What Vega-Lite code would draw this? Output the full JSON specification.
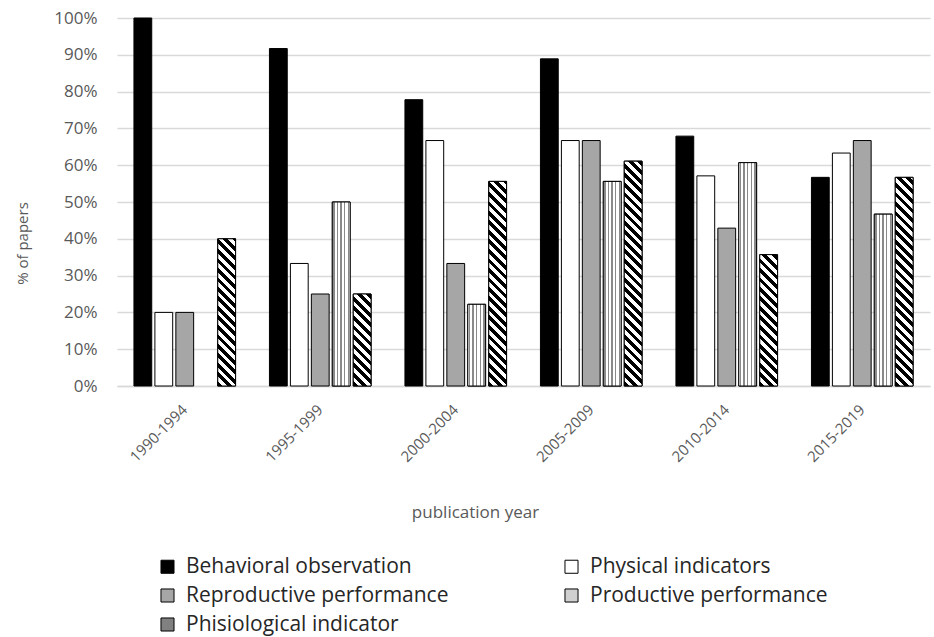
{
  "$schema": "https://vega.github.io/schema/vega-lite/v6.json",
  "width": 813,
  "height": 368,
  "autosize": {"type": "none"},
  "padding": {"left": 117, "top": 18, "right": 4, "bottom": 251},
  "background": "white",
  "config": {"view": {"stroke": null}, "font": "Open Sans"},
  "params": [
    {"name": "stripeStops", "value": [
      {"offset": 0, "color": "#000"}, {"offset": 0.0179, "color": "#000"},
      {"offset": 0.0179, "color": "#fff"}, {"offset": 0.0357, "color": "#fff"},
      {"offset": 0.0357, "color": "#000"}, {"offset": 0.0536, "color": "#000"},
      {"offset": 0.0536, "color": "#fff"}, {"offset": 0.0714, "color": "#fff"},
      {"offset": 0.0714, "color": "#000"}, {"offset": 0.0893, "color": "#000"},
      {"offset": 0.0893, "color": "#fff"}, {"offset": 0.1071, "color": "#fff"},
      {"offset": 0.1071, "color": "#000"}, {"offset": 0.125, "color": "#000"},
      {"offset": 0.125, "color": "#fff"}, {"offset": 0.1429, "color": "#fff"},
      {"offset": 0.1429, "color": "#000"}, {"offset": 0.1607, "color": "#000"},
      {"offset": 0.1607, "color": "#fff"}, {"offset": 0.1786, "color": "#fff"},
      {"offset": 0.1786, "color": "#000"}, {"offset": 0.1964, "color": "#000"},
      {"offset": 0.1964, "color": "#fff"}, {"offset": 0.2143, "color": "#fff"},
      {"offset": 0.2143, "color": "#000"}, {"offset": 0.2321, "color": "#000"},
      {"offset": 0.2321, "color": "#fff"}, {"offset": 0.25, "color": "#fff"},
      {"offset": 0.25, "color": "#000"}, {"offset": 0.2679, "color": "#000"},
      {"offset": 0.2679, "color": "#fff"}, {"offset": 0.2857, "color": "#fff"},
      {"offset": 0.2857, "color": "#000"}, {"offset": 0.3036, "color": "#000"},
      {"offset": 0.3036, "color": "#fff"}, {"offset": 0.3214, "color": "#fff"},
      {"offset": 0.3214, "color": "#000"}, {"offset": 0.3393, "color": "#000"},
      {"offset": 0.3393, "color": "#fff"}, {"offset": 0.3571, "color": "#fff"},
      {"offset": 0.3571, "color": "#000"}, {"offset": 0.375, "color": "#000"},
      {"offset": 0.375, "color": "#fff"}, {"offset": 0.3929, "color": "#fff"},
      {"offset": 0.3929, "color": "#000"}, {"offset": 0.4107, "color": "#000"},
      {"offset": 0.4107, "color": "#fff"}, {"offset": 0.4286, "color": "#fff"},
      {"offset": 0.4286, "color": "#000"}, {"offset": 0.4464, "color": "#000"},
      {"offset": 0.4464, "color": "#fff"}, {"offset": 0.4643, "color": "#fff"},
      {"offset": 0.4643, "color": "#000"}, {"offset": 0.4821, "color": "#000"},
      {"offset": 0.4821, "color": "#fff"}, {"offset": 0.5, "color": "#fff"},
      {"offset": 0.5, "color": "#000"}, {"offset": 0.5179, "color": "#000"},
      {"offset": 0.5179, "color": "#fff"}, {"offset": 0.5357, "color": "#fff"},
      {"offset": 0.5357, "color": "#000"}, {"offset": 0.5536, "color": "#000"},
      {"offset": 0.5536, "color": "#fff"}, {"offset": 0.5714, "color": "#fff"},
      {"offset": 0.5714, "color": "#000"}, {"offset": 0.5893, "color": "#000"},
      {"offset": 0.5893, "color": "#fff"}, {"offset": 0.6071, "color": "#fff"},
      {"offset": 0.6071, "color": "#000"}, {"offset": 0.625, "color": "#000"},
      {"offset": 0.625, "color": "#fff"}, {"offset": 0.6429, "color": "#fff"},
      {"offset": 0.6429, "color": "#000"}, {"offset": 0.6607, "color": "#000"},
      {"offset": 0.6607, "color": "#fff"}, {"offset": 0.6786, "color": "#fff"},
      {"offset": 0.6786, "color": "#000"}, {"offset": 0.6964, "color": "#000"},
      {"offset": 0.6964, "color": "#fff"}, {"offset": 0.7143, "color": "#fff"},
      {"offset": 0.7143, "color": "#000"}, {"offset": 0.7321, "color": "#000"},
      {"offset": 0.7321, "color": "#fff"}, {"offset": 0.75, "color": "#fff"},
      {"offset": 0.75, "color": "#000"}, {"offset": 0.7679, "color": "#000"},
      {"offset": 0.7679, "color": "#fff"}, {"offset": 0.7857, "color": "#fff"},
      {"offset": 0.7857, "color": "#000"}, {"offset": 0.8036, "color": "#000"},
      {"offset": 0.8036, "color": "#fff"}, {"offset": 0.8214, "color": "#fff"},
      {"offset": 0.8214, "color": "#000"}, {"offset": 0.8393, "color": "#000"},
      {"offset": 0.8393, "color": "#fff"}, {"offset": 0.8571, "color": "#fff"},
      {"offset": 0.8571, "color": "#000"}, {"offset": 0.875, "color": "#000"},
      {"offset": 0.875, "color": "#fff"}, {"offset": 0.8929, "color": "#fff"},
      {"offset": 0.8929, "color": "#000"}, {"offset": 0.9107, "color": "#000"},
      {"offset": 0.9107, "color": "#fff"}, {"offset": 0.9286, "color": "#fff"},
      {"offset": 0.9286, "color": "#000"}, {"offset": 0.9464, "color": "#000"},
      {"offset": 0.9464, "color": "#fff"}, {"offset": 0.9643, "color": "#fff"},
      {"offset": 0.9643, "color": "#000"}, {"offset": 0.9821, "color": "#000"},
      {"offset": 0.9821, "color": "#fff"}, {"offset": 1, "color": "#fff"}
    ]},
    {"name": "dotFill", "value": {"gradient": "linear", "x1": 0, "y1": 0, "x2": 1, "y2": 0, "stops": [
      {"offset": 0, "color": "#fff"}, {"offset": 0.06, "color": "#fff"},
      {"offset": 0.06, "color": "#8a8a8a"}, {"offset": 0.14, "color": "#8a8a8a"},
      {"offset": 0.14, "color": "#fff"}, {"offset": 0.26, "color": "#fff"},
      {"offset": 0.26, "color": "#8a8a8a"}, {"offset": 0.34, "color": "#8a8a8a"},
      {"offset": 0.34, "color": "#fff"}, {"offset": 0.46, "color": "#fff"},
      {"offset": 0.46, "color": "#8a8a8a"}, {"offset": 0.54, "color": "#8a8a8a"},
      {"offset": 0.54, "color": "#fff"}, {"offset": 0.66, "color": "#fff"},
      {"offset": 0.66, "color": "#8a8a8a"}, {"offset": 0.74, "color": "#8a8a8a"},
      {"offset": 0.74, "color": "#fff"}, {"offset": 0.86, "color": "#fff"},
      {"offset": 0.86, "color": "#8a8a8a"}, {"offset": 0.94, "color": "#8a8a8a"},
      {"offset": 0.94, "color": "#fff"}, {"offset": 1, "color": "#fff"}
    ]}}
  ],
  "data": {"values": [
    {"period": "1990-1994", "series": "Behavioral observation", "pct": 1.0},
    {"period": "1990-1994", "series": "Physical indicators", "pct": 0.2},
    {"period": "1990-1994", "series": "Reproductive performance", "pct": 0.2},
    {"period": "1990-1994", "series": "Phisiological indicator", "pct": 0.4},
    {"period": "1995-1999", "series": "Behavioral observation", "pct": 0.917},
    {"period": "1995-1999", "series": "Physical indicators", "pct": 0.333},
    {"period": "1995-1999", "series": "Reproductive performance", "pct": 0.25},
    {"period": "1995-1999", "series": "Productive performance", "pct": 0.5},
    {"period": "1995-1999", "series": "Phisiological indicator", "pct": 0.25},
    {"period": "2000-2004", "series": "Behavioral observation", "pct": 0.778},
    {"period": "2000-2004", "series": "Physical indicators", "pct": 0.667},
    {"period": "2000-2004", "series": "Reproductive performance", "pct": 0.333},
    {"period": "2000-2004", "series": "Productive performance", "pct": 0.222},
    {"period": "2000-2004", "series": "Phisiological indicator", "pct": 0.556},
    {"period": "2005-2009", "series": "Behavioral observation", "pct": 0.889},
    {"period": "2005-2009", "series": "Physical indicators", "pct": 0.667},
    {"period": "2005-2009", "series": "Reproductive performance", "pct": 0.667},
    {"period": "2005-2009", "series": "Productive performance", "pct": 0.556},
    {"period": "2005-2009", "series": "Phisiological indicator", "pct": 0.611},
    {"period": "2010-2014", "series": "Behavioral observation", "pct": 0.679},
    {"period": "2010-2014", "series": "Physical indicators", "pct": 0.571},
    {"period": "2010-2014", "series": "Reproductive performance", "pct": 0.429},
    {"period": "2010-2014", "series": "Productive performance", "pct": 0.607},
    {"period": "2010-2014", "series": "Phisiological indicator", "pct": 0.357},
    {"period": "2015-2019", "series": "Behavioral observation", "pct": 0.567},
    {"period": "2015-2019", "series": "Physical indicators", "pct": 0.633},
    {"period": "2015-2019", "series": "Reproductive performance", "pct": 0.667},
    {"period": "2015-2019", "series": "Productive performance", "pct": 0.467},
    {"period": "2015-2019", "series": "Phisiological indicator", "pct": 0.567}
  ]},
  "encoding": {
    "x": {
      "field": "period", "type": "nominal",
      "sort": ["1990-1994", "1995-1999", "2000-2004", "2005-2009", "2010-2014", "2015-2019"],
      "scale": {"paddingInner": 0.25, "paddingOuter": 0.125},
      "axis": {
        "title": "publication year", "titleX": 358, "titleY": 126, "titleAlign": "center", "titleBaseline": "middle",
        "titleFont": "Open Sans", "titleFontSize": 17, "titleFontWeight": "normal", "titleColor": "#595959",
        "labelAngle": -45, "labelFont": "Open Sans", "labelFontSize": 15, "labelColor": "#595959", "labelPadding": 16, "labelOffset": -5,
        "ticks": false, "domainColor": "#d9d9d9", "domainWidth": 1.5, "grid": false
      }
    },
    "xOffset": {
      "field": "series", "type": "nominal",
      "scale": {"domain": ["Behavioral observation", "Physical indicators", "Reproductive performance", "Productive performance", "Phisiological indicator"], "paddingInner": 0.15, "paddingOuter": 0}
    },
    "y": {
      "field": "pct", "type": "quantitative",
      "scale": {"domain": [0, 1]},
      "axis": {
        "title": "% of papers", "titleX": -95, "titleY": 225, "titleAlign": "center", "titleBaseline": "middle", "titleAngle": -90,
        "titleFont": "Open Sans", "titleFontSize": 15, "titleFontWeight": "normal", "titleColor": "#595959",
        "values": [0, 0.1, 0.2, 0.3, 0.4, 0.5, 0.6, 0.7, 0.8, 0.9, 1.0], "format": ".0%",
        "labelFont": "Open Sans", "labelFontSize": 17, "labelColor": "#595959", "labelPadding": 20,
        "ticks": false, "domain": false, "grid": true, "gridColor": "#d9d9d9", "gridWidth": 1.5
      }
    }
  },
  "layer": [
    {
      "mark": {"type": "bar", "stroke": "#000", "strokeWidth": 1},
      "encoding": {
        "color": {
          "field": "series", "type": "nominal",
          "scale": {"domain": ["Behavioral observation", "Physical indicators", "Reproductive performance", "Productive performance", "Phisiological indicator"], "range": ["#000000", "#ffffff", "#a6a6a6", "#d0d0d0", "#808080"]},
          "legend": {
            "title": null, "orient": "none", "legendX": 40, "legendY": 538, "direction": "horizontal", "columns": 2,
            "columnPadding": 112, "rowPadding": 7, "padding": 0,
            "symbolType": "square", "symbolSize": 170, "symbolStrokeColor": "#000", "symbolStrokeWidth": 1, "symbolOpacity": 1,
            "labelFont": "Open Sans", "labelFontSize": 21, "labelColor": "#262626", "labelOffset": 8, "labelLimit": 400
          }
        }
      }
    },
    {
      "transform": [{"filter": "datum.series === 'Productive performance'"}],
      "mark": {"type": "bar", "stroke": "#000", "strokeWidth": 1, "fill": {"expr": "dotFill"}}
    },
    {
      "transform": [{"filter": "datum.series === 'Phisiological indicator'"}],
      "mark": {"type": "bar", "stroke": "#000", "strokeWidth": 1, "fill": {"expr": "{gradient: 'linear', x1: 0, y1: 1, x2: bandwidth('xOffset') * 266 / (pow(bandwidth('xOffset'), 2) + pow(scale('y', 0) - scale('y', datum.pct), 2)), y2: 1 - (scale('y', 0) - scale('y', datum.pct)) * 266 / (pow(bandwidth('xOffset'), 2) + pow(scale('y', 0) - scale('y', datum.pct), 2)), stops: stripeStops}"}}
    }
  ]
}
